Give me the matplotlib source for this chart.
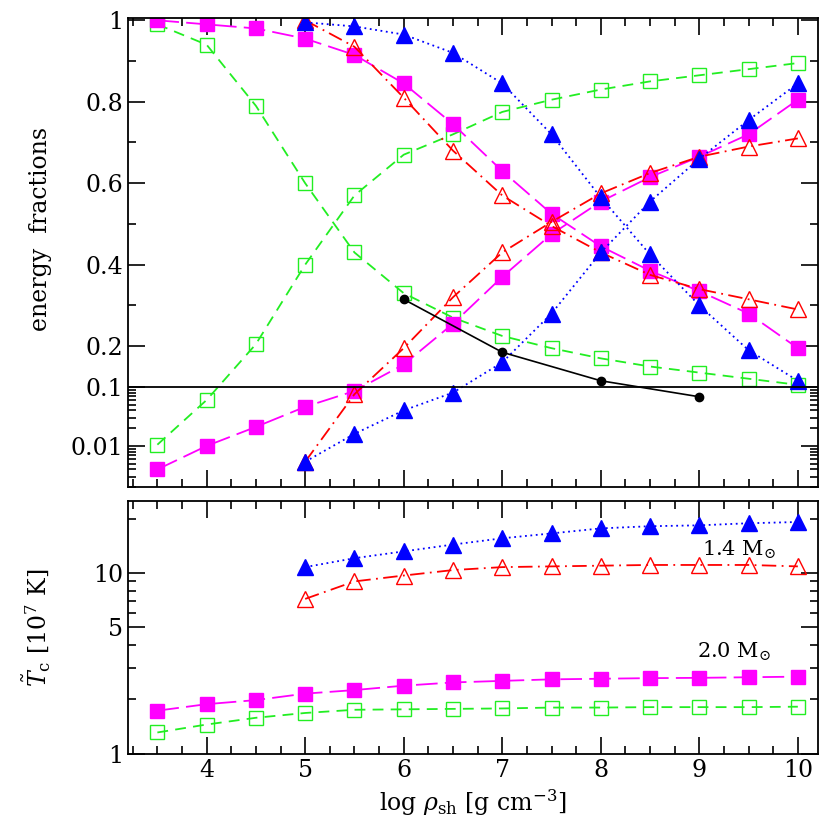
import matplotlib
matplotlib.use('Agg')
import matplotlib.pyplot as plt
import numpy as np

plt.rcParams['font.family'] = 'DejaVu Serif'
plt.rcParams['mathtext.fontset'] = 'dejavuserif'

x_all = [3.5, 4, 4.5, 5, 5.5, 6, 6.5, 7, 7.5, 8, 8.5, 9, 9.5, 10]
x_hi = [5, 5.5, 6, 6.5, 7, 7.5, 8, 8.5, 9, 9.5, 10]
x_blk = [6, 7, 8, 9]

# top panel: energy fractions
green_dn = [0.99, 0.94, 0.79, 0.60, 0.43, 0.33, 0.27, 0.225, 0.195, 0.17, 0.15, 0.135, 0.12, 0.105]
green_up = [0.0105, 0.06, 0.205, 0.40, 0.57, 0.67, 0.72, 0.775, 0.805, 0.83, 0.85, 0.865, 0.88, 0.895]
mag_dn = [1.0, 0.99, 0.98, 0.955, 0.915, 0.845, 0.745, 0.63, 0.525, 0.445, 0.385, 0.335, 0.28, 0.195]
mag_up = [0.004, 0.01, 0.021, 0.046, 0.085, 0.155, 0.255, 0.37, 0.475, 0.555, 0.615, 0.665, 0.72, 0.805]
red_dn = [1.0, 0.935, 0.81, 0.68, 0.57, 0.495, 0.43, 0.375, 0.34, 0.315, 0.29]
red_up = [0.0054, 0.075, 0.195, 0.32, 0.43, 0.505, 0.575, 0.625, 0.665, 0.69, 0.71]
blue_dn = [0.995, 0.985, 0.965, 0.92, 0.845, 0.72, 0.565, 0.425, 0.30, 0.19, 0.115]
blue_up = [0.0054, 0.016, 0.04, 0.08, 0.16, 0.28, 0.43, 0.555, 0.66, 0.755, 0.845]
black = [0.315, 0.185, 0.115, 0.068]

# bottom panel: central temperature
blue_T = [10.8, 12.1, 13.2, 14.4, 15.6, 16.6, 17.7, 18.2, 18.4, 18.9, 19.2]
red_T = [7.2, 9.0, 9.7, 10.4, 10.8, 10.9, 11.0, 11.1, 11.1, 11.1, 10.9]
mag_T = [1.73, 1.88, 1.98, 2.15, 2.25, 2.38, 2.48, 2.53, 2.58, 2.6, 2.62, 2.63, 2.65, 2.67]
green_T = [1.31, 1.45, 1.58, 1.68, 1.75, 1.76, 1.77, 1.78, 1.8, 1.8, 1.81, 1.81, 1.81, 1.82]

K = 0.145


def fwd(y):
    y = np.asarray(y, dtype=float)
    ys = np.maximum(y, 1e-12)
    return np.where(y >= 0.1, y, 0.1 + K * np.log10(ys / 0.1))


def inv(z):
    z = np.asarray(z, dtype=float)
    return np.where(z >= 0.1, z, 0.1 * 10 ** ((z - 0.1) / K))


fig = plt.figure(figsize=(8.3, 8.3), dpi=100)
ax1 = fig.add_axes([0.154, 0.413, 0.831, 0.565])
ax2 = fig.add_axes([0.154, 0.092, 0.831, 0.304])

sty = dict(
    blue=dict(color='blue', ls=(0, (1, 2)), marker='^', ms=11, mfc='blue', mec='blue', lw=1.3),
    red=dict(color='red', ls=(0, (8, 3, 1, 3)), marker='^', ms=11, mfc='none', mec='red', lw=1.3),
    mag=dict(color='magenta', ls=(0, (12, 4)), marker='s', ms=10, mfc='magenta', mec='magenta', lw=1.3),
    green=dict(color='#22ee22', ls=(0, (6, 4)), marker='s', ms=10, mfc='none', mec='#22ee22', lw=1.3),
)

ax1.set_yscale('function', functions=(fwd, inv))
ax1.plot(x_all, green_dn, **sty['green'])
ax1.plot(x_all, green_up, **sty['green'])
ax1.plot(x_all, mag_dn, **sty['mag'])
ax1.plot(x_all, mag_up, **sty['mag'])
ax1.plot(x_hi, red_dn, **sty['red'])
ax1.plot(x_hi, red_up, **sty['red'])
ax1.plot(x_hi, blue_dn, **sty['blue'])
ax1.plot(x_hi, blue_up, **sty['blue'])
ax1.plot(x_blk, black, color='black', marker='o', ms=6, lw=1.2)
ax1.axhline(0.1, color='black', lw=1.3)
ax1.set_xlim(3.2, 10.2)
ax1.set_ylim(0.002, 1.005)
ax1.set_yticks([0.01, 0.1, 0.2, 0.4, 0.6, 0.8, 1.0])
ax1.set_yticklabels(['0.01', '0.1', '0.2', '0.4', '0.6', '0.8', '1'])
minors = [0.3, 0.5, 0.7, 0.9] + [i * 0.01 for i in range(2, 10)] + [i * 0.001 for i in range(2, 10)]
ax1.set_yticks(minors, minor=True)
ax1.set_xticks(range(4, 11))
ax1.set_xticklabels([])
ax1.set_xticks(np.arange(3.25, 10.2, 0.25), minor=True)
ax1.set_ylabel('energy  fractions', fontsize=17)
ax1.yaxis.set_label_coords(-0.11, 0.55)

ax2.set_yscale('log')
ax2.plot(x_hi, blue_T, **sty['blue'])
ax2.plot(x_hi, red_T, **sty['red'])
ax2.plot(x_all, mag_T, **sty['mag'])
ax2.plot(x_all, green_T, **sty['green'])
ax2.set_xlim(3.2, 10.2)
ax2.set_ylim(1, 25)
ax2.set_yticks([1, 5, 10])
ax2.set_yticklabels(['1', '5', '10'])
ax2.set_yticks([2, 3, 4, 6, 7, 8, 9, 20], minor=True)
ax2.yaxis.set_minor_formatter(matplotlib.ticker.NullFormatter())
ax2.set_xticks(range(4, 11))
ax2.set_xticks(np.arange(3.25, 10.2, 0.25), minor=True)
ax2.text(9.4, 13.4, r'1.4 M$_{\odot}$', fontsize=15, ha='center', va='center')
ax2.text(9.35, 3.66, r'2.0 M$_{\odot}$', fontsize=15, ha='center', va='center')
ax2.set_ylabel(r'$\tilde{T}_{\rm c}$ [10$^7$ K]', fontsize=17)
ax2.yaxis.set_label_coords(-0.11, 0.5)
ax2.set_xlabel(r'log $\rho_{\rm sh}$ [g cm$^{-3}$]', fontsize=17)

for ax in (ax1, ax2):
    ax.tick_params(which='both', direction='in', top=True, right=True, labelsize=17, width=1.2)
    ax.tick_params(which='major', length=12)
    ax.tick_params(which='minor', length=6)
    for s in ax.spines.values():
        s.set_linewidth(1.3)

fig.savefig('out.png')
